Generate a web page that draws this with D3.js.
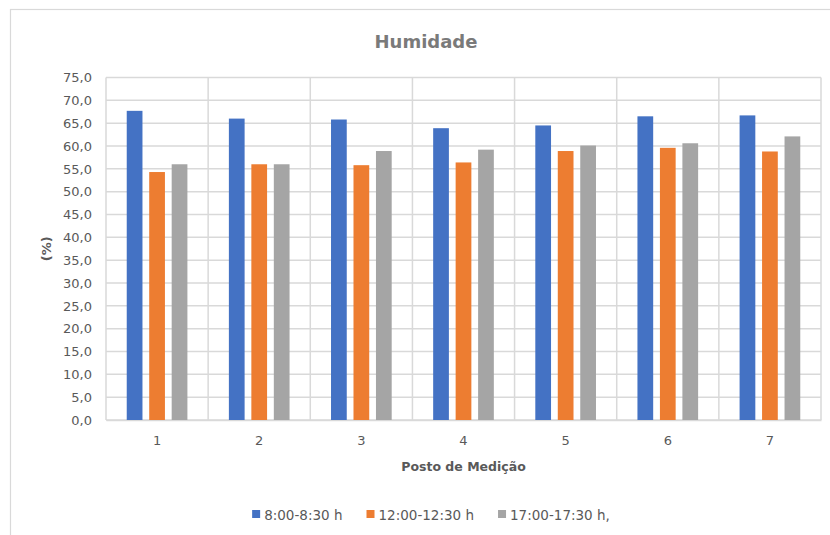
<!DOCTYPE html>
<html>
<head>
<meta charset="utf-8">
<script src="https://cdn.jsdelivr.net/npm/d3@7"></script>
<style>
  html, body { margin: 0; padding: 0; background: #fff; }
  svg { display: block; }
  text { font-family: "DejaVu Sans", sans-serif; }
</style>
</head>
<body>
<svg id="chart" width="830" height="535"></svg>
<script>
const categories = ["1", "2", "3", "4", "5", "6", "7"];
const seriesNames = ["8:00-8:30 h", "12:00-12:30 h", "17:00-17:30 h,"];
const morning = [67.7, 66.0, 65.8, 63.9, 64.5, 66.5, 66.7];
const noon = [54.3, 56.0, 55.8, 56.4, 58.9, 59.6, 58.8];
const evening = [56.0, 56.0, 58.9, 59.2, 60.1, 60.6, 62.1];
const yTicks = [0, 5, 10, 15, 20, 25, 30, 35, 40, 45, 50, 55, 60, 65, 70, 75];
const colors = ["#4472C4", "#ED7D31", "#A5A5A5"];

const seriesValues = [morning, noon, evening];
const rows = categories.map((c, i) => ({
  cat: c,
  values: seriesNames.map((s, j) => ({ series: s, idx: j, value: seriesValues[j][i] }))
}));

const svg = d3.select("#chart");
const plot = { left: 106, right: 821, top: 77.5, bottom: 420 };

// Outer chart border
svg.append("rect")
  .attr("x", 10.5).attr("y", 9.5)
  .attr("width", 900).attr("height", 700)
  .attr("fill", "none").attr("stroke", "#d9d9d9").attr("stroke-width", 1.2);

const locale = d3.formatLocale({ decimal: ",", thousands: ".", grouping: [3], currency: ["", "€"] });
const fmt = locale.format(".1f");

const x0 = d3.scaleBand().domain(categories).range([plot.left, plot.right]).paddingInner(0).paddingOuter(0);
const bw = x0.bandwidth();
const x1 = d3.scaleBand().domain(seriesNames).range([bw * 0.203, bw * 0.797]).paddingInner(0.3).paddingOuter(0);
const y = d3.scaleLinear().domain([0, 75]).range([plot.bottom, plot.top]);

const gridColor = "#d9d9d9";

// Horizontal gridlines
svg.append("g").selectAll("line").data(yTicks).join("line")
  .attr("x1", plot.left).attr("x2", plot.right)
  .attr("y1", d => y(d)).attr("y2", d => y(d))
  .attr("stroke", gridColor).attr("stroke-width", 1.5);

// Vertical gridlines (category boundaries)
const vBounds = categories.map(c => x0(c)).concat([x0(categories[categories.length - 1]) + bw]);
svg.append("g").selectAll("line").data(vBounds).join("line")
  .attr("x1", d => d).attr("x2", d => d)
  .attr("y1", plot.top).attr("y2", plot.bottom)
  .attr("stroke", gridColor).attr("stroke-width", 1.5);

// Y axis labels
const yAxis = d3.axisLeft(y).tickValues(yTicks).tickFormat(fmt).tickSize(0).tickPadding(14);
const gy = svg.append("g").attr("transform", `translate(${plot.left},0)`).call(yAxis);
gy.select(".domain").remove();
gy.selectAll("text").attr("fill", "#595959").style("font-size", "13px").style("font-family", '"DejaVu Sans", sans-serif');

// X axis labels
const xAxis = d3.axisBottom(x0).tickSize(0).tickPadding(16);
const gx = svg.append("g").attr("transform", `translate(0,${plot.bottom})`).call(xAxis);
gx.select(".domain").attr("stroke", gridColor).attr("stroke-width", 1.5);
gx.selectAll("text").attr("fill", "#595959").style("font-size", "13px").style("font-family", '"DejaVu Sans", sans-serif');

// Bars
const groups = svg.append("g").selectAll("g").data(rows).join("g")
  .attr("transform", d => `translate(${x0(d.cat)},0)`);
groups.selectAll("rect").data(d => d.values).join("rect")
  .attr("x", d => x1(d.series))
  .attr("width", x1.bandwidth())
  .attr("y", d => y(d.value))
  .attr("height", d => y(0) - y(d.value))
  .attr("fill", d => colors[d.idx]);

// Title
svg.append("text")
  .attr("x", 426).attr("y", 47.5)
  .attr("text-anchor", "middle")
  .attr("fill", "#7a7a7a")
  .style("font-size", "18px").style("font-weight", "bold")
  .text("Humidade");

// X axis title
svg.append("text")
  .attr("x", (plot.left + plot.right) / 2).attr("y", 471)
  .attr("text-anchor", "middle")
  .attr("fill", "#595959")
  .style("font-size", "12.5px").style("font-weight", "bold")
  .text("Posto de Medição");

// Y axis title
svg.append("text")
  .attr("transform", `translate(51,${(plot.top + plot.bottom) / 2}) rotate(-90)`)
  .attr("text-anchor", "middle")
  .attr("fill", "#595959")
  .style("font-size", "13px").style("font-weight", "bold")
  .text("(%)");

// Legend
const legend = svg.append("g");
const items = legend.selectAll("g").data(seriesNames).join("g");
items.append("rect").attr("width", 8).attr("height", 8).attr("y", 510)
  .attr("fill", (d, i) => colors[i]);
items.append("text").attr("x", 12).attr("y", 519.5)
  .attr("fill", "#595959").style("font-size", "13.5px")
  .text(d => d);
const widths = [];
items.each(function () {
  const tw = d3.select(this).select("text").node().getComputedTextLength();
  widths.push(12 + tw);
});
const gap = 24;
const total = widths.reduce((a, b) => a + b, 0) + gap * (widths.length - 1);
let start = 431 - total / 2;
items.attr("transform", (d, i) => {
  const t = `translate(${start},0)`;
  start += widths[i] + gap;
  return t;
});
</script>
</body>
</html>
